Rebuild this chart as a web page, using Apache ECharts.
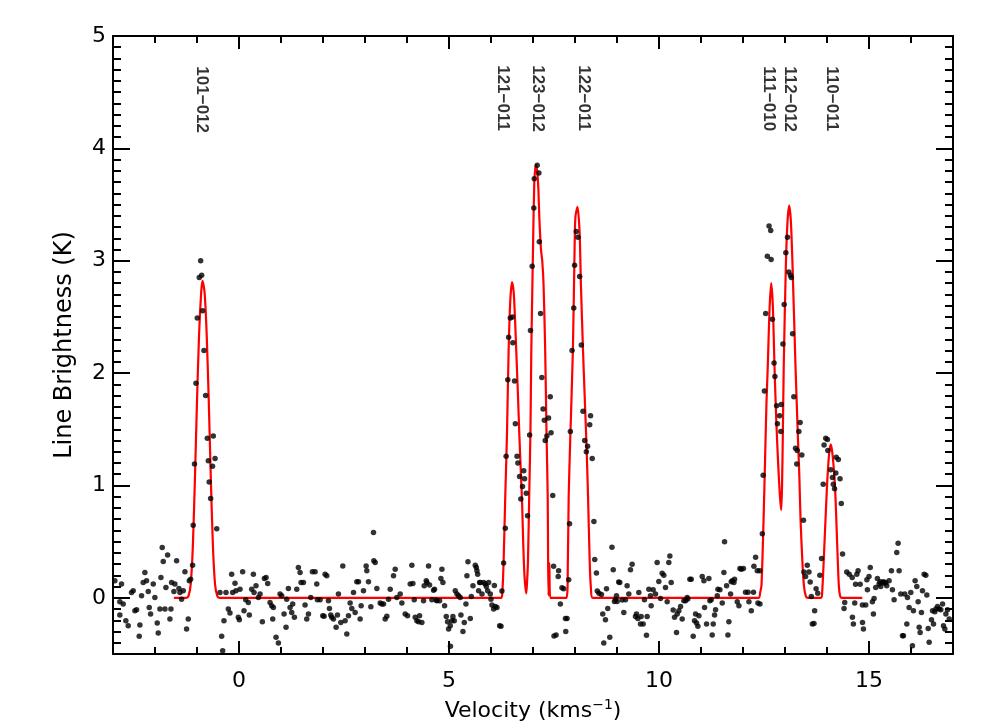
<!DOCTYPE html>
<html><head><meta charset="utf-8">
<script src="https://cdn.jsdelivr.net/npm/echarts@6/dist/echarts.min.js"></script>
<style>html,body{margin:0;padding:0;background:#fff}#c{width:986px;height:727px}</style>
</head><body><div id="c"></div>
<script>
// observed spectrum: velocity (km/s) and line brightness (K)
const pointVel = [
-2.956,-2.837,-2.837,-2.797,-2.757,-2.694,-2.638,-2.559,-2.519,-2.479,-2.439,-2.376,-2.360,-2.320,-2.281,-2.241,-2.201,-2.161,-2.137,-2.106,
-2.042,-2.003,-1.947,-1.923,-1.883,-1.859,-1.828,-1.804,-1.764,-1.740,-1.700,-1.645,-1.621,-1.605,-1.549,-1.526,-1.486,-1.430,-1.406,-1.367,
-1.327,-1.287,-1.248,-1.208,-1.184,-1.152,-1.105,
-1.09,-1.06,-1.025,-0.993,-0.946,-0.913,-0.889,-0.866,-0.834,-0.794,-0.755,-0.73,-0.71,-0.675,-0.63,-0.612,-0.57,-0.53,
-0.453,-0.413,-0.389,-0.358,-0.310,-0.254,-0.215,-0.175,-0.151,-0.095,-0.072,-0.016,0.008,0.024,0.087,0.119,0.159,0.222,0.246,0.302,
0.342,0.358,0.405,0.461,0.501,0.556,0.604,0.644,0.683,0.739,0.779,0.803,0.818,0.882,0.938,0.977,1.017,1.073,1.120,1.136,
1.176,1.216,1.255,1.279,1.319,1.375,1.414,1.454,1.478,1.534,1.573,1.613,1.653,1.708,1.748,1.812,1.851,1.867,1.931,1.994,
2.026,2.050,2.090,2.130,2.153,2.185,2.209,2.249,2.312,2.344,2.368,2.424,2.471,2.527,2.567,2.606,2.646,2.686,2.726,2.765,
2.805,2.845,2.884,2.908,2.964,3.027,3.043,3.083,3.139,3.202,3.210,3.242,3.282,3.361,3.401,3.441,3.480,3.520,3.560,3.600,
3.679,3.719,3.758,3.838,3.878,3.957,4.013,4.076,4.116,4.140,4.172,4.196,4.235,4.275,4.299,4.354,4.394,4.410,4.458,4.474,
4.513,4.537,4.593,4.633,4.656,4.696,4.712,4.776,4.807,4.831,4.855,4.895,4.935,4.966,4.990,5.030,5.035,5.070,5.093,5.125,
5.149,5.189,5.229,5.268,5.284,5.332,5.364,5.403,5.427,5.451,5.507,5.531,5.571,5.626,5.650,5.666,5.682,5.705,5.729,5.745,
5.785,5.824,5.864,5.888,5.920,5.944,5.983,5.999,6.023,6.063,6.08,6.103,6.142,6.206,6.238,6.26,
6.30,6.34,6.36,6.40,6.42,6.46,6.51,6.52,6.56,6.58,6.62,6.64,6.68,6.71,6.75,6.78,6.80,6.84,6.87,6.92,
6.94,6.98,7.02,7.03,7.10,7.14,7.15,7.18,7.21,7.24,7.27,7.29,7.33,7.37,7.41,7.43,7.47,7.49,7.50,7.55,
7.60,7.61,7.652,7.69,7.73,7.772,7.78,7.811,7.85,7.87,7.89,7.93,7.97,7.99,8.03,8.07,8.11,8.15,8.19,8.23,
8.27,8.30,8.35,8.37,8.41,8.45,8.47,8.51,8.53,8.57,8.63,8.661,8.685,8.725,8.75,8.780,8.828,8.88,8.91,8.939,
8.963,8.987,9.003,9.04,9.066,
9.122,9.162,9.202,9.241,9.281,9.321,9.360,9.440,9.464,9.496,9.519,9.559,9.575,9.623,9.654,9.702,9.718,9.758,9.797,9.813,
9.861,9.917,9.956,9.996,10.036,10.075,10.115,10.155,10.195,10.234,10.258,10.290,10.338,10.370,10.417,10.433,10.473,10.513,10.552,10.592,
10.632,10.671,10.687,10.735,10.767,10.814,10.846,10.870,10.894,10.926,10.950,
11.029,11.069,11.085,11.132,11.188,11.212,11.243,11.267,11.291,11.323,11.347,11.387,11.403,11.450,11.506,11.545,11.561,11.609,11.641,11.664,
11.704,11.720,11.744,11.784,11.799,11.863,11.903,11.927,11.959,12.01,
12.06,12.12,12.141,12.197,12.25,12.26,12.30,12.34,12.356,12.40,12.403,12.46,12.48,12.51,12.54,12.58,12.62,12.66,12.67,12.70,
12.74,12.76,12.80,12.82,12.87,12.90,12.91,12.95,12.98,13.02,13.06,13.09,13.13,13.15,13.18,13.21,13.25,13.28,13.29,13.33,
13.36,13.40,13.44,13.45,13.49,13.53,13.57,13.60,13.627,13.650,13.690,13.706,13.74,13.78,13.83,13.87,13.91,13.93,13.97,14.01,
14.02,14.09,14.13,14.15,14.18,14.21,14.22,14.27,14.31,14.34,14.37,14.406,14.422,14.47,14.53,14.60,14.605,14.628,14.660,14.68,
14.71,14.74,14.79,14.843,14.845,14.867,14.922,14.95,14.962,15.00,15.03,
15.081,15.105,15.121,15.160,15.200,15.240,15.264,15.280,15.319,15.343,15.375,15.399,15.423,15.479,15.534,15.558,15.598,15.661,15.693,15.717,
15.757,15.797,15.820,15.852,15.900,15.916,15.955,15.995,16.034,16.058,16.098,16.138,16.170,16.194,16.217,16.249,16.273,16.313,16.353,16.377,
16.409,16.432,16.488,16.512,16.536,16.568,16.592,16.631,16.671,16.711,16.751,16.774,16.806,16.830,16.870,16.910
];
const pointT = [
0.151,-0.035,-0.154,0.122,-0.056,-0.204,-0.248,0.048,0.062,-0.115,-0.106,-0.343,-0.243,0.018,0.136,0.225,0.151,0.057,-0.086,-0.145,
0.122,0.003,-0.225,-0.313,-0.100,0.181,0.447,0.323,-0.100,0.092,0.382,-0.189,-0.100,0.136,0.057,0.122,0.329,0.083,0.048,-0.012,
0.062,0.231,-0.278,-0.189,0.151,0.166,0.290,
0.645,1.19,1.91,2.49,2.85,3.00,2.87,2.555,2.20,1.80,1.42,1.22,1.03,0.885,1.17,1.44,1.24,0.615,
0.048,-0.343,-0.470,-0.204,0.048,-0.100,-0.136,0.210,0.048,0.130,0.062,-0.174,-0.195,0.077,0.231,-0.115,-0.017,-0.041,-0.154,0.077,
0.210,0.048,0.107,0.003,0.033,-0.213,0.172,0.181,0.128,-0.041,-0.071,-0.189,-0.086,-0.352,-0.403,0.033,0.018,-0.145,-0.263,-0.012,
0.083,-0.086,-0.130,-0.056,-0.174,0.077,0.270,0.225,0.136,0.136,-0.065,-0.189,-0.145,0.003,0.231,0.231,0.122,-0.017,-0.017,-0.160,
-0.165,0.210,0.196,-0.026,-0.095,-0.154,-0.174,-0.189,-0.263,-0.154,0.033,-0.219,0.284,-0.204,-0.322,-0.160,-0.047,-0.095,0.048,-0.130,
0.142,0.142,-0.189,-0.071,0.062,0.284,0.240,0.142,-0.080,0.581,0.329,0.314,0.083,-0.047,-0.056,-0.056,-0.189,-0.165,-0.012,0.077,
0.196,0.255,0.003,0.033,-0.047,-0.145,-0.160,0.122,0.290,0.128,-0.017,-0.174,-0.204,-0.213,-0.160,-0.219,-0.026,0.107,0.151,0.136,
0.284,0.113,-0.017,0.068,0.077,-0.020,-0.026,-0.026,0.172,0.255,0.136,-0.071,-0.166,-0.213,-0.278,-0.248,-0.432,-0.204,-0.166,-0.204,
0.062,0.033,0.018,0.003,-0.154,-0.299,-0.219,-0.056,0.196,0.320,-0.183,0.012,0.107,0.290,0.270,0.240,0.210,0.062,0.136,0.136,
0.033,0.136,0.122,0.101,0.062,0.136,0.033,-0.012,-0.065,-0.100,0.11,-0.077,-0.086,-0.248,-0.254,0.06,
0.31,0.62,1.26,1.94,2.32,2.49,2.50,2.27,1.93,1.55,1.26,1.20,1.08,0.88,0.99,1.13,1.06,0.93,0.73,1.45,
2.38,2.95,3.47,3.73,3.85,3.78,3.17,2.53,1.96,1.68,1.58,1.40,1.44,1.60,1.79,1.47,0.91,0.28,-0.34,-0.33,
0.19,0.24,-0.056,0.09,0.08,-0.183,-0.30,-0.183,0.16,0.66,1.48,2.20,2.58,2.96,3.26,3.21,2.86,2.25,1.66,1.40,
1.30,1.35,1.54,1.62,1.24,0.68,0.34,0.22,0.06,0.04,0.03,-0.145,-0.403,-0.195,0.08,-0.094,-0.352,0.45,0.25,-0.032,
-0.017,0.018,-0.032,0.14,0.136,
-0.020,-0.130,-0.017,0.107,0.033,0.249,0.299,-0.166,-0.145,-0.183,0.048,-0.234,-0.166,-0.234,-0.017,-0.334,-0.166,0.077,0.018,-0.071,
0.071,0.033,0.314,0.145,-0.006,0.219,0.201,0.092,-0.035,0.314,0.373,0.136,-0.109,-0.174,-0.308,-0.145,-0.115,-0.077,-0.189,-0.026,
-0.026,0.003,-0.010,0.166,0.166,-0.343,-0.204,-0.145,-0.225,-0.254,-0.160,
0.190,0.151,-0.086,-0.234,0.172,-0.026,-0.017,-0.331,-0.234,-0.154,-0.106,0.018,0.077,0.071,-0.047,0.225,0.498,0.107,-0.331,-0.213,
0.033,0.142,0.151,0.136,0.166,-0.035,-0.071,0.261,0.255,0.26,
0.05,0.05,-0.035,-0.115,0.05,0.28,0.36,0.24,-0.047,0.24,-0.056,0.57,1.09,1.84,2.53,3.04,3.31,3.27,3.01,2.48,
2.09,1.97,1.71,1.55,1.62,1.48,1.72,2.26,2.61,3.07,3.21,2.90,2.87,2.85,2.35,1.79,1.33,1.19,1.31,1.48,
1.56,1.27,0.69,0.23,0.19,0.29,0.23,0.14,0.012,-0.234,-0.228,-0.115,0.08,0.04,0.20,0.35,1.01,1.36,1.42,1.41,
1.31,1.14,1.07,1.01,0.97,1.11,1.25,1.23,1.06,0.84,0.39,-0.095,-0.041,0.23,0.21,0.18,-0.174,-0.234,-0.047,0.12,
0.21,0.24,0.12,-0.065,-0.219,-0.278,-0.065,0.16,0.071,0.19,0.27,
-0.035,-0.145,-0.006,0.092,0.172,0.122,0.142,0.101,0.136,0.142,0.130,0.136,0.107,0.151,0.240,0.071,-0.017,0.403,0.486,0.240,
0.033,-0.337,-0.337,0.033,-0.234,0.003,-0.086,0.048,-0.426,-0.115,0.151,0.101,-0.035,-0.263,-0.308,-0.130,0.062,0.210,0.201,0.024,
-0.272,-0.396,-0.195,-0.115,-0.234,-0.124,-0.100,-0.077,-0.100,-0.106,-0.056,-0.248,-0.278,-0.145,-0.106,-0.189
];
// fitted hyperfine model (red curve)
const modelVel = [
-1.55,-1.25,-1.20,-1.15,-1.10,-1.05,-1.00,-0.95,-0.90,-0.87,-0.82,-0.77,-0.72,-0.67,-0.62,-0.57,-0.52,-0.47,
6.24,6.27,6.30,6.34,6.38,6.42,6.46,6.50,6.54,6.57,6.60,6.64,6.68,6.71,6.74,6.77,6.80,6.84,
6.86,6.88,6.91,6.94,6.96,7.00,7.03,7.06,7.08,7.11,7.13,7.15,7.19,7.22,7.25,7.29,7.32,7.35,7.36,7.37,7.39,7.41,
7.80,7.83,7.85,7.89,7.95,7.99,8.01,8.06,8.11,8.14,8.19,8.23,8.27,8.31,8.35,8.38,8.42,
12.37,12.41,12.44,12.49,12.53,12.56,12.59,12.63,12.67,12.71,12.75,12.79,12.84,12.88,12.91,
12.93,12.95,12.97,13.02,13.06,13.10,13.14,13.18,13.25,13.31,13.34,13.37,13.41,13.45,13.50,13.55,
13.85,13.88,13.93,14.00,14.05,14.09,14.13,14.19,14.25,14.28,14.31,14.35,14.84
];
const modelT = [
0,0,0.02,0.12,0.45,1.05,1.75,2.35,2.72,2.82,2.72,2.35,1.75,1.05,0.45,0.12,0.02,0,
0,0.05,0.32,0.91,1.45,2.21,2.65,2.81,2.72,2.50,2.21,1.82,1.40,1.12,0.85,0.45,0.18,0.04,
0.15,0.32,0.91,1.50,2.21,3.10,3.69,3.84,3.85,3.75,3.62,3.39,3.10,3.00,2.80,2.21,1.50,0.91,0.32,0.02,0.31,0,
0,0.32,0.91,1.45,2.21,3.10,3.39,3.48,3.25,2.80,2.21,1.80,1.40,0.91,0.32,0.08,0,
0,0.05,0.11,0.70,1.30,1.75,2.06,2.55,2.80,2.60,2.06,1.60,1.17,0.90,0.78,
1.00,1.50,2.06,2.95,3.35,3.49,3.35,2.95,2.06,1.40,1.10,0.70,0.35,0.11,0.01,0,
0,0.02,0.40,0.995,1.28,1.365,1.28,0.995,0.40,0.12,0.02,0,0
];
// hyperfine component labels
const lineNames = ['101\u2212012','121\u2212011','123\u2212012','122\u2212011','111\u2212010','112\u2212012','110\u2212011'];
const lineVel = [-0.89, 6.29, 7.10, 8.20, 12.61, 13.11, 14.11];
const lineLabelTop = [4.73, 4.74, 4.74, 4.74, 4.73, 4.73, 4.73];
// axes
const xRange = [-3, 17];
const yRange = [-0.5, 5];
const xMajorTicks = [0, 5, 10, 15];
const yMajorTicks = [0, 1, 2, 3, 4, 5];

const FONT = '"DejaVu Sans", Verdana, sans-serif';
const LFONT = '"Liberation Sans", Arial, Helvetica, sans-serif';
const BLACK = '#000';
const chart = echarts.init(document.getElementById('c'), null, {renderer: 'canvas'});

function xAx(pos, major, withLabels) {
  const a = {
    type: 'value', position: pos, min: xRange[0], max: xRange[1],
    axisLine: {show: major, onZero: false, lineStyle: {color: BLACK, width: 2}},
    splitLine: {show: false},
    axisTick: {show: true, inside: true, length: major ? 13 : 7, lineStyle: {color: BLACK, width: 2}},
    axisLabel: {show: false}
  };
  if (major) {
    a.axisTick.customValues = xMajorTicks;
    a.axisLabel = {show: withLabels, customValues: xMajorTicks, fontSize: 22, color: BLACK, fontFamily: FONT, margin: 16};
  } else {
    a.interval = 1;
  }
  if (withLabels) {
    a.name = '{n|Velocity (kms}{s|\u22121}{n|)}';
    a.nameLocation = 'middle';
    a.nameGap = 44;
    a.nameTextStyle = {rich: {
      n: {fontSize: 22, fontFamily: FONT, color: BLACK, lineHeight: 26},
      s: {fontSize: 14, fontFamily: FONT, color: BLACK, lineHeight: 14, verticalAlign: 'top'}
    }};
  }
  return a;
}
function yAx(pos, major, withLabels) {
  const a = {
    type: 'value', position: pos, min: yRange[0], max: yRange[1],
    axisLine: {show: major, onZero: false, lineStyle: {color: BLACK, width: 2}},
    splitLine: {show: false},
    axisTick: {show: true, inside: true, length: major ? 17 : 8, lineStyle: {color: BLACK, width: 2}},
    axisLabel: {show: false}
  };
  if (major) {
    a.axisTick.customValues = yMajorTicks;
    a.axisLabel = {show: withLabels, customValues: yMajorTicks, fontSize: 22, color: BLACK, fontFamily: FONT, margin: 7};
  } else {
    a.interval = 0.1;
  }
  if (withLabels) {
    a.name = 'Line Brightness (K)';
    a.nameLocation = 'middle';
    a.nameGap = 36;
    a.nameTextStyle = {fontSize: 24, fontFamily: FONT, color: BLACK};
  }
  return a;
}

const option = {
  animation: false,
  backgroundColor: '#fff',
  grid: {left: 113, right: 33, top: 36, bottom: 72, containLabel: false},
  xAxis: [xAx('bottom', true, true), xAx('bottom', false, false), xAx('top', true, false), xAx('top', false, false)],
  yAxis: [yAx('left', true, true), yAx('left', false, false), yAx('right', true, false), yAx('right', false, false)],
  series: [
    {
      type: 'line', xAxisIndex: 0, yAxisIndex: 0,
      data: modelVel.map((v, i) => [v, modelT[i]]),
      showSymbol: false, symbol: 'none', smooth: 0.25,
      lineStyle: {color: '#ff0000', width: 2.2},
      z: 2
    },
    {
      type: 'scatter', xAxisIndex: 0, yAxisIndex: 0,
      data: pointVel.map((v, i) => [v, pointT[i]]),
      symbol: 'circle', symbolSize: 5.5,
      itemStyle: {color: BLACK},
      z: 3
    },
    {
      type: 'scatter', xAxisIndex: 0, yAxisIndex: 0,
      data: lineVel.map((v, i) => ({value: [v, lineLabelTop[i]], name: lineNames[i]})),
      symbolSize: 1, itemStyle: {color: 'rgba(0,0,0,0)'},
      label: {
        show: true, position: 'inside', rotate: -90, align: 'left', verticalAlign: 'middle',
        formatter: p => p.name, fontSize: 17, fontWeight: 'bold', fontFamily: LFONT, color: BLACK
      },
      z: 4
    }
  ]
};
chart.setOption(option);
</script>
</body></html>
